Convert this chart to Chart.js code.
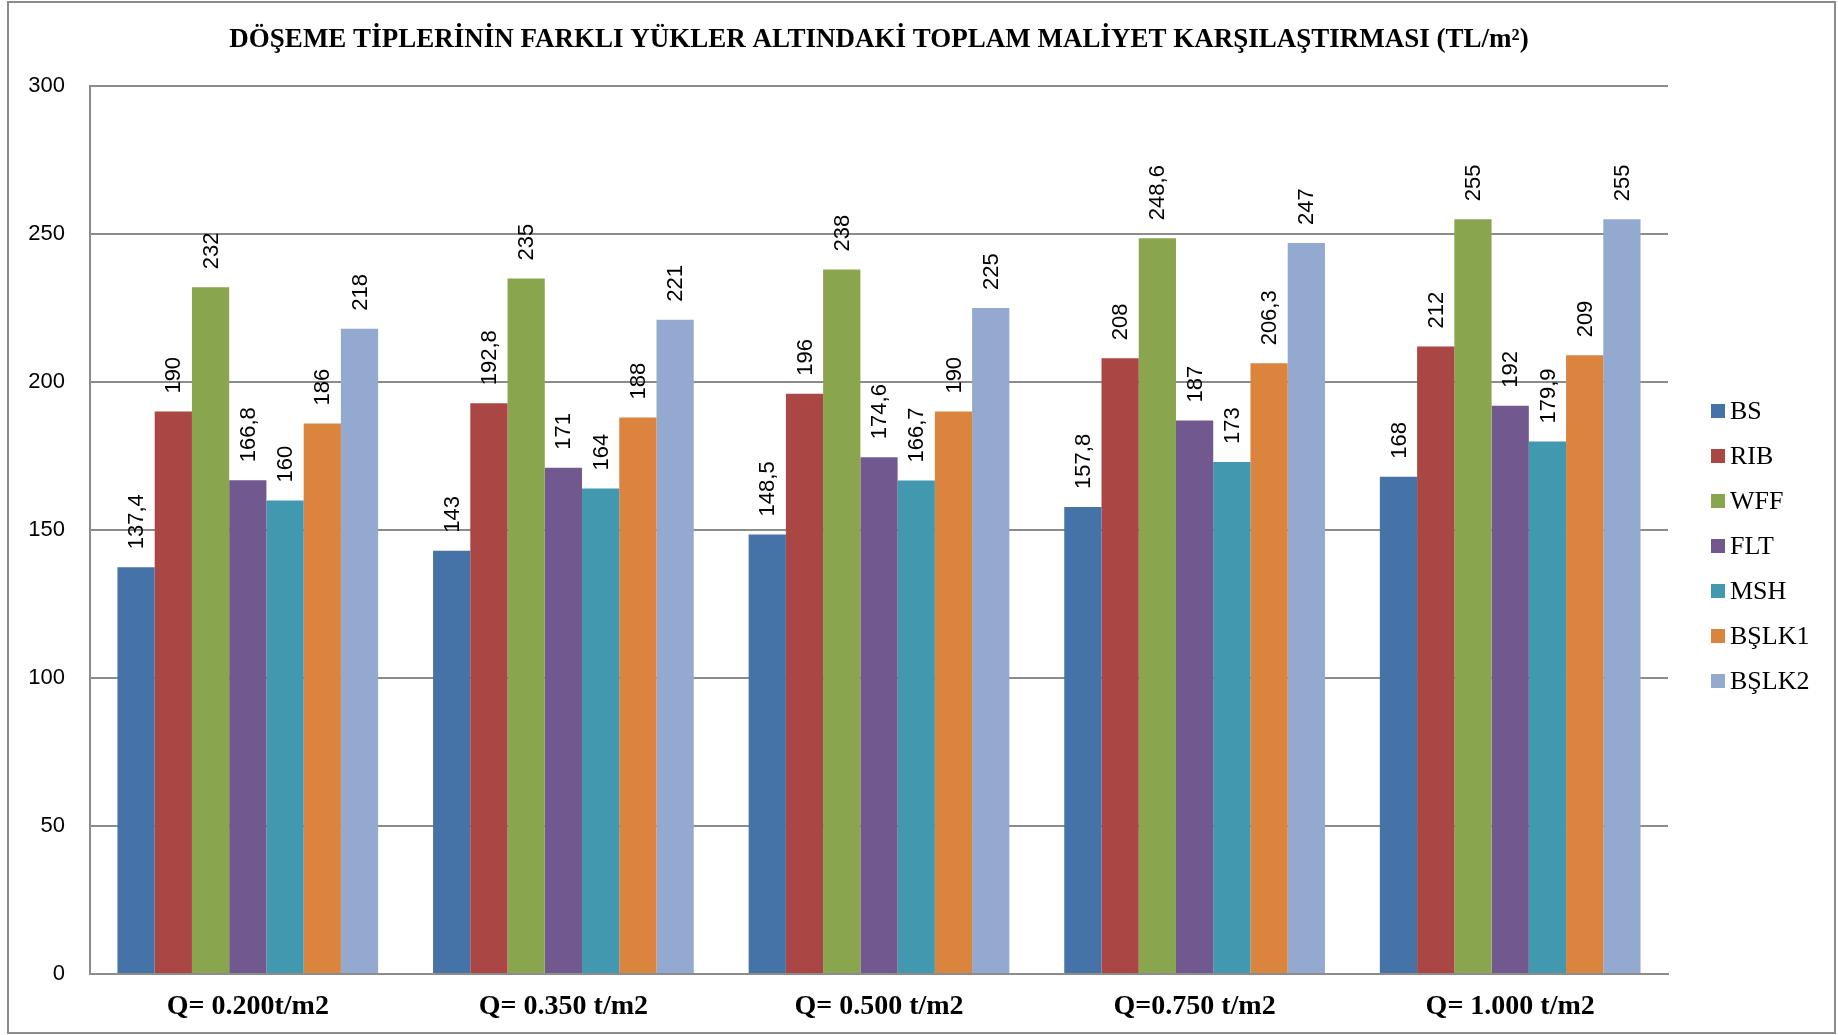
<!DOCTYPE html>
<html>
<head>
<meta charset="utf-8">
<script src="https://cdn.jsdelivr.net/npm/chart.js@4"></script>
<style>
  body { margin: 0; background: #fff; }
  #wrap { width: 1838px; height: 1035px; position: relative; }
</style>
</head>
<body>
<div id="wrap"><canvas id="mycanvas"></canvas></div>
<script>
// load cases and slab types
var categories = ["Q= 0.200t/m2", "Q= 0.350 t/m2", "Q= 0.500 t/m2", "Q=0.750 t/m2", "Q= 1.000 t/m2"];
var seriesNames = ["BS", "RIB", "WFF", "FLT", "MSH", "BŞLK1", "BŞLK2"];
var seriesColors = ["#4572A7", "#AA4643", "#89A54E", "#71588F", "#4198AF", "#DB843D", "#93A9CF"];

var bs    = [137.4, 143, 148.5, 157.8, 168];
var rib   = [190, 192.8, 196, 208, 212];
var wff   = [232, 235, 238, 248.6, 255];
var flt   = [166.8, 171, 174.6, 187, 192];
var msh   = [160, 164, 166.7, 173, 179.9];
var bslk1 = [186, 188, 190, 206.3, 209];
var bslk2 = [218, 221, 225, 247, 255];

var yTicks = [0, 50, 100, 150, 200, 250, 300];

var titleText = "DÖŞEME TİPLERİNİN FARKLI YÜKLER ALTINDAKİ TOPLAM MALİYET KARŞILAŞTIRMASI (TL/m²)";

var values = [bs, rib, wff, flt, msh, bslk1, bslk2];
var datasets = [];
for (var i = 0; i < seriesNames.length; i++) {
  datasets.push({
    label: seriesNames[i],
    data: values[i],
    backgroundColor: seriesColors[i],
    borderWidth: 0
  });
}

var gridGrey = "#8c8c8c";

// white page, outer frame and title
var framePlugin = {
  id: "frame",
  beforeDraw: function(chart) {
    var c = chart.ctx;
    c.save();
    c.fillStyle = "#fff";
    c.fillRect(0, 0, chart.width, chart.height);
    c.strokeStyle = "#8c8c8c";
    c.lineWidth = 2;
    c.strokeRect(8, 2, chart.width - 11, chart.height - 4);
    c.restore();
  },
  afterDraw: function(chart) {
    var c = chart.ctx;
    var a = chart.chartArea;
    c.save();
    c.fillStyle = "#000";
    c.font = "bold 27px 'Liberation Serif'";
    c.textAlign = "center";
    c.textBaseline = "middle";
    c.fillText(titleText, (a.left + a.right) / 2, 40);

    // legend on the right
    c.font = "26px 'Liberation Serif'";
    c.textAlign = "left";
    for (var i = 0; i < chart.data.datasets.length; i++) {
      var ds = chart.data.datasets[i];
      var y = 411 + i * 45;
      c.fillStyle = ds.backgroundColor;
      c.fillRect(1711, y - 7, 14, 14);
      c.fillStyle = "#000";
      c.fillText(ds.label, 1730, y + 1);
    }
    c.restore();
  }
};

// rotated value labels above each bar
var valueLabels = {
  id: "valueLabels",
  afterDatasetsDraw: function(chart) {
    var c = chart.ctx;
    c.save();
    c.fillStyle = "#000";
    c.font = "22px 'Liberation Sans'";
    c.textAlign = "left";
    c.textBaseline = "middle";
    chart.data.datasets.forEach(function(ds, di) {
      var meta = chart.getDatasetMeta(di);
      meta.data.forEach(function(bar, j) {
        var txt = String(ds.data[j]).replace(".", ",");
        c.save();
        c.translate(bar.x + 1, bar.y - 18);
        c.rotate(-Math.PI / 2);
        c.fillText(txt, 0, 0);
        c.restore();
      });
    });
    c.restore();
  }
};

var ctx = document.getElementById("mycanvas");

var barChart = new Chart(ctx, {
  type: "bar",
  data: {
    labels: categories,
    datasets: datasets
  },
  plugins: [framePlugin, valueLabels],
  options: {
    responsive: true,
    maintainAspectRatio: false,
    animation: false,
    layout: {
      padding: { top: 86, right: 170, bottom: 0, left: 0 }
    },
    datasets: {
      bar: {
        categoryPercentage: 0.826,
        barPercentage: 1.0
      }
    },
    plugins: {
      legend: { display: false },
      title: { display: false },
      tooltip: { enabled: false }
    },
    scales: {
      x: {
        grid: { display: false },
        border: { display: true, color: gridGrey, width: 2 },
        ticks: {
          color: "#000",
          padding: 8,
          font: { family: "'Liberation Serif'", size: 28, weight: "bold" }
        },
        afterFit: function(scale) { scale.height = 61; }
      },
      y: {
        min: 0,
        max: 300,
        afterBuildTicks: function(scale) {
          scale.ticks = yTicks.map(function(v) { return { value: v }; });
        },
        grid: { color: gridGrey, lineWidth: 2, drawTicks: false },
        border: { display: true, color: gridGrey, width: 2 },
        ticks: {
          color: "#000",
          padding: 25,
          font: { family: "'Liberation Sans'", size: 22 }
        },
        afterFit: function(scale) { scale.width = 90; }
      }
    }
  }
});
</script>
</body>
</html>
